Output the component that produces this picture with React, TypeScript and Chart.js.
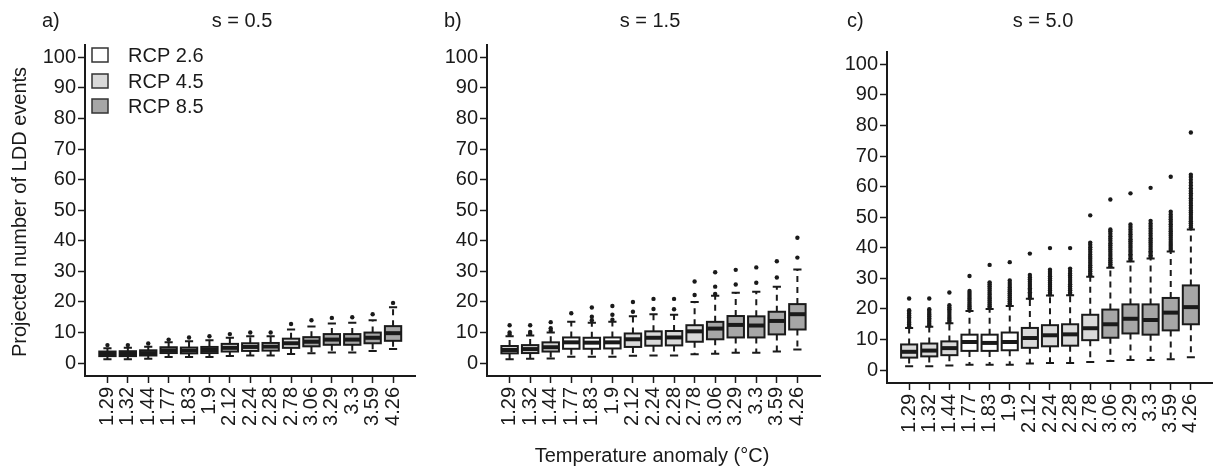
import React, { useEffect, useRef } from "react";
import { Chart, registerables } from "chart.js";
Chart.register(...registerables);

// ---------------- data ----------------
const categories = ["1.29", "1.32", "1.44", "1.77", "1.83", "1.9", "2.12", "2.24", "2.28", "2.78", "3.06", "3.29", "3.3", "3.59", "4.26"];
// 0 = RCP 2.6, 1 = RCP 4.5, 2 = RCP 8.5
const rcpGroup = [1, 1, 1, 0, 0, 0, 1, 1, 1, 1, 2, 2, 2, 2, 2];
const legendLabels = ["RCP 2.6", "RCP 4.5", "RCP 8.5"];
const yTickValues = [0, 10, 20, 30, 40, 50, 60, 70, 80, 90, 100];

// panel a) s = 0.5
const aLow = [1.3, 1.3, 1.4, 2.0, 2.0, 2.0, 2.3, 2.5, 2.5, 3.0, 3.2, 3.5, 3.5, 4.0, 4.6];
const aQ1 = [2.3, 2.3, 2.5, 3.3, 3.2, 3.3, 3.8, 4.0, 4.1, 5.0, 5.5, 6.0, 6.0, 6.5, 7.3];
const aMed = [3.0, 3.0, 3.3, 4.2, 4.1, 4.3, 5.0, 5.3, 5.4, 6.5, 7.0, 7.7, 7.7, 8.3, 9.8];
const aQ3 = [3.8, 3.9, 4.2, 5.2, 5.1, 5.3, 6.3, 6.5, 6.6, 8.0, 8.5, 9.5, 9.5, 10.0, 12.1];
const aHigh = [4.9, 5.0, 5.4, 6.8, 7.2, 7.5, 8.3, 8.8, 8.8, 11.0, 12.0, 13.0, 13.2, 14.0, 18.3];
const aOut = [[5.9], [5.9], [6.4], [7.7], [8.4], [8.8], [9.5], [10.0], [10.0], [12.8], [14.0], [14.8], [15.0], [16.0], [19.7]];

// panel b) s = 1.5
const bLow = [1.3, 1.4, 1.5, 2.1, 2.1, 2.1, 2.4, 2.5, 2.5, 2.9, 3.1, 3.4, 3.4, 3.8, 4.5];
const bQ1 = [3.2, 3.3, 3.8, 4.7, 4.7, 4.8, 5.3, 5.7, 5.8, 7.0, 7.8, 8.4, 8.4, 9.4, 11.0];
const bMed = [4.3, 4.6, 5.2, 6.8, 6.7, 6.8, 7.8, 8.3, 8.4, 10.4, 11.3, 12.5, 12.3, 13.8, 16.0];
const bQ3 = [5.6, 5.9, 6.8, 8.4, 8.3, 8.4, 9.7, 10.4, 10.5, 12.4, 13.5, 15.4, 15.3, 16.8, 19.3];
const bHigh = [8.8, 9.0, 10.0, 13.5, 13.2, 13.5, 15.3, 16.0, 15.8, 20.0, 22.0, 23.0, 23.3, 25.0, 30.6];
const bOut = [
  [9.4, 10.0, 12.4],
  [9.6, 10.2, 12.4],
  [10.6, 11.4, 13.4],
  [16.3],
  [14.0, 15.2, 18.2],
  [14.2, 15.8, 18.7],
  [16.8, 20.0],
  [17.7, 21.0],
  [17.6, 21.0],
  [22.3, 26.7],
  [22.6, 25.0, 29.7],
  [25.7, 30.5],
  [26.3, 31.3],
  [28.0, 33.3],
  [34.5, 41.0],
];

// panel c) s = 5.0
const cLow = [1.3, 1.3, 1.5, 1.8, 1.8, 1.8, 2.2, 2.3, 2.3, 2.7, 3.0, 3.3, 3.3, 3.6, 4.2];
const cQ1 = [4.1, 4.5, 4.9, 6.3, 6.3, 6.5, 7.3, 7.8, 8.0, 9.8, 10.6, 12.0, 11.6, 13.0, 15.0];
const cMed = [6.0, 6.4, 7.2, 9.2, 8.9, 9.2, 10.5, 11.4, 11.7, 13.7, 15.0, 16.8, 16.4, 18.8, 20.6];
const cQ3 = [8.4, 8.7, 9.4, 11.6, 11.6, 12.3, 13.8, 14.7, 15.0, 18.1, 19.8, 21.5, 21.5, 23.6, 27.7];
const cHigh = [13.8, 14.2, 15.3, 19.3, 20.0, 21.0, 23.3, 24.4, 24.5, 30.5, 33.5, 35.5, 36.5, 38.8, 46.0];
const cOut = [
  [14.3, 14.9, 15.5, 16.1, 16.7, 17.3, 17.9, 18.5, 19.1, 19.6, 23.4],
  [14.6, 15.2, 15.8, 16.4, 17.0, 17.6, 18.2, 18.8, 19.4, 19.9, 23.4],
  [15.6, 16.2, 16.8, 17.4, 18.0, 18.7, 19.3, 19.9, 20.5, 21.2, 25.4],
  [19.6, 20.2, 20.8, 21.4, 22.0, 22.7, 23.3, 23.9, 24.6, 25.2, 25.9, 30.8],
  [20.3, 20.9, 21.5, 22.1, 22.8, 23.4, 24.0, 24.7, 25.3, 26.0, 26.7, 27.4, 28.1, 28.7, 34.4],
  [21.3, 21.9, 22.5, 23.2, 23.8, 24.5, 25.1, 25.8, 26.4, 27.1, 27.8, 28.5, 29.3, 35.3],
  [23.6, 24.2, 24.9, 25.5, 26.2, 26.8, 27.5, 28.2, 28.9, 29.6, 30.3, 31.1, 38.1],
  [24.7, 25.3, 26.0, 26.6, 27.3, 27.9, 28.6, 29.3, 30.0, 30.7, 31.4, 32.1, 32.8, 39.9],
  [24.8, 25.4, 26.1, 26.7, 27.4, 28.1, 28.8, 29.5, 30.2, 30.9, 31.6, 32.4, 33.2, 39.9],
  [31.0, 31.6, 32.3, 32.9, 33.6, 34.3, 35.0, 35.7, 36.4, 37.1, 37.8, 38.6, 39.4, 40.2, 41.0, 41.7, 50.6],
  [34.0, 34.6, 35.3, 35.9, 36.6, 37.3, 38.0, 38.7, 39.4, 40.1, 40.8, 41.5, 42.3, 43.0, 43.8, 44.6, 45.4, 46.0, 55.8],
  [36.0, 36.6, 37.3, 37.9, 38.6, 39.3, 40.0, 40.7, 41.4, 42.1, 42.8, 43.6, 44.4, 45.2, 46.0, 46.8, 47.6, 57.8],
  [37.0, 37.6, 38.3, 38.9, 39.6, 40.3, 41.0, 41.7, 42.4, 43.1, 43.9, 44.7, 45.5, 46.3, 47.1, 47.9, 48.8, 59.6],
  [39.3, 39.9, 40.6, 41.2, 41.9, 42.6, 43.3, 44.0, 44.7, 45.4, 46.1, 46.9, 47.7, 48.5, 49.3, 50.1, 50.9, 51.8, 63.2],
  [46.6, 47.3, 48.0, 48.7, 49.4, 50.1, 50.8, 51.5, 52.2, 53.0, 53.8, 54.6, 55.4, 56.2, 57.0, 57.8, 58.6, 59.5, 60.4, 61.3, 62.2, 63.1, 63.9, 77.7],
];

// ---------------- styles / layout ----------------
const W = 1219;
const H = 472;
const FONT = '"Liberation Sans", Arial, Helvetica, sans-serif';
const INK = "#1a1a1a";
const groupFill = ["#ffffff", "#d9d9d9", "#a6a6a6"];

interface Panel {
  tag: string;
  title: string;
  titleX: number;
  tagX: number;
  left: number;
  right: number;
  top: number;
  bottom: number;
  yW: number;
  low: number[];
  q1: number[];
  med: number[];
  q3: number[];
  high: number[];
  out: number[][];
  legend?: boolean;
  yTitle?: boolean;
  xTitle?: boolean;
}

const panels: Panel[] = [
  { tag: "a)", title: "s = 0.5", titleX: 242, tagX: 42, left: 85, right: 415.5, top: 45, bottom: 376, yW: 60,
    low: aLow, q1: aQ1, med: aMed, q3: aQ3, high: aHigh, out: aOut, legend: true, yTitle: true },
  { tag: "b)", title: "s = 1.5", titleX: 650, tagX: 444, left: 487, right: 820, top: 45, bottom: 376, yW: 60,
    low: bLow, q1: bQ1, med: bMed, q3: bQ3, high: bHigh, out: bOut, xTitle: true },
  { tag: "c)", title: "s = 5.0", titleX: 1043, tagX: 847, left: 887, right: 1219, top: 52, bottom: 383, yW: 60,
    low: cLow, q1: cQ1, med: cMed, q3: cQ3, high: cHigh, out: cOut },
];

function makeBoxPlugin(p: Panel) {
  return {
    id: "boxes",
    beforeDatasetsDraw(chart: any) {
      const ctx: CanvasRenderingContext2D = chart.ctx;
      const xs = chart.scales.x;
      const ys = chart.scales.y;
      const unit = xs.getPixelForValue(1) - xs.getPixelForValue(0);
      const halfBox = unit * 0.4;
      const halfCap = unit * 0.2;
      ctx.save();
      categories.forEach((_, i) => {
        const cx = xs.getPixelForValue(i + 1);
        const yLow = ys.getPixelForValue(p.low[i]);
        const yQ1 = ys.getPixelForValue(p.q1[i]);
        const yMed = ys.getPixelForValue(p.med[i]);
        const yQ3 = ys.getPixelForValue(p.q3[i]);
        const yHigh = ys.getPixelForValue(p.high[i]);
        // whiskers (dashed)
        ctx.strokeStyle = INK;
        ctx.lineWidth = 2;
        ctx.setLineDash([6, 5]);
        ctx.beginPath();
        ctx.moveTo(cx, yQ1);
        ctx.lineTo(cx, yLow);
        ctx.moveTo(cx, yQ3);
        ctx.lineTo(cx, yHigh);
        ctx.stroke();
        ctx.setLineDash([]);
        // staples
        ctx.lineWidth = 2;
        ctx.beginPath();
        ctx.moveTo(cx - halfCap, yLow);
        ctx.lineTo(cx + halfCap, yLow);
        ctx.moveTo(cx - halfCap, yHigh);
        ctx.lineTo(cx + halfCap, yHigh);
        ctx.stroke();
        // box
        ctx.fillStyle = groupFill[rcpGroup[i]];
        ctx.fillRect(cx - halfBox, yQ3, halfBox * 2, yQ1 - yQ3);
        ctx.lineWidth = 2;
        ctx.strokeRect(cx - halfBox, yQ3, halfBox * 2, yQ1 - yQ3);
        // median
        ctx.lineWidth = 4;
        ctx.beginPath();
        ctx.moveTo(cx - halfBox, yMed);
        ctx.lineTo(cx + halfBox, yMed);
        ctx.stroke();
      });
      ctx.restore();
    },
    afterDraw(chart: any) {
      const ctx: CanvasRenderingContext2D = chart.ctx;
      ctx.save();
      ctx.fillStyle = INK;
      ctx.font = `20px ${FONT}`;
      ctx.textBaseline = "alphabetic";
      ctx.textAlign = "left";
      ctx.fillText(p.tag, p.tagX, 27);
      ctx.textAlign = "center";
      ctx.fillText(p.title, p.titleX, 27);
      if (p.yTitle) {
        ctx.save();
        ctx.translate(26, 212);
        ctx.rotate(-Math.PI / 2);
        ctx.textAlign = "center";
        ctx.textBaseline = "alphabetic";
        ctx.fillText("Projected number of LDD events", 0, 0);
        ctx.restore();
      }
      if (p.xTitle) {
        ctx.textAlign = "center";
        ctx.fillText("Temperature anomaly (°C)", 652, 462);
      }
      if (p.legend) {
        const rows = [55, 81, 106];
        legendLabels.forEach((lab, k) => {
          const cy = rows[k];
          ctx.fillStyle = groupFill[k];
          ctx.fillRect(92, cy - 7, 16, 14);
          ctx.strokeStyle = "#333";
          ctx.lineWidth = 1.5;
          ctx.strokeRect(92, cy - 7, 16, 14);
          ctx.fillStyle = INK;
          ctx.textAlign = "left";
          ctx.textBaseline = "middle";
          ctx.fillText(lab, 128, cy + 1);
        });
      }
      ctx.restore();
    },
  };
}

function PanelChart({ p }: { p: Panel }) {
  const ref = useRef<HTMLCanvasElement>(null);
  useEffect(() => {
    if (!ref.current) return;
    const points: { x: number; y: number }[] = [];
    p.out.forEach((vals, i) => vals.forEach((v) => points.push({ x: i + 1, y: v })));
    const chart = new Chart(ref.current, {
      type: "scatter",
      data: {
        datasets: [
          {
            data: points,
            pointRadius: 2.2,
            pointBackgroundColor: INK,
            pointBorderWidth: 0,
            pointHoverRadius: 2.2,
          },
        ],
      },
      options: {
        animation: false,
        responsive: false,
        events: [],
        layout: { padding: { left: p.left - p.yW, right: W - p.right, top: p.top, bottom: 0 } },
        plugins: { legend: { display: false }, tooltip: { enabled: false }, title: { display: false } },
        scales: {
          x: {
            type: "linear",
            min: -0.1,
            max: 16.1,
            afterBuildTicks: (s: any) => {
              s.ticks = categories.map((_, i) => ({ value: i + 1 }));
            },
            afterFit: (s: any) => {
              s.height = H - p.bottom;
            },
            ticks: {
              autoSkip: false,
              minRotation: 90,
              maxRotation: 90,
              padding: 4,
              color: INK,
              font: { family: FONT, size: 20 },
              callback: (v: any) => categories[Math.round(Number(v)) - 1] ?? "",
            },
            grid: { drawOnChartArea: false, drawTicks: true, tickLength: 7, tickWidth: 1.5, tickColor: INK },
            border: { display: true, width: 2, color: INK },
          },
          y: {
            type: "linear",
            min: -4.2,
            max: 104,
            afterBuildTicks: (s: any) => {
              s.ticks = yTickValues.map((v) => ({ value: v }));
            },
            afterFit: (s: any) => {
              s.width = p.yW;
            },
            ticks: {
              padding: 2,
              color: INK,
              font: { family: FONT, size: 20 },
              callback: (v: any) => String(v),
            },
            grid: { drawOnChartArea: false, drawTicks: true, tickLength: 7, tickWidth: 1.5, tickColor: INK },
            border: { display: true, width: 2, color: INK },
          },
        },
      } as any,
      plugins: [makeBoxPlugin(p)],
    });
    return () => chart.destroy();
  }, [p]);
  return (
    <canvas
      ref={ref}
      width={W}
      height={H}
      style={{ position: "absolute", left: 0, top: 0, width: W, height: H }}
    />
  );
}

export default function App() {
  return (
    <div style={{ position: "fixed", left: 0, top: 0, width: W, height: H, background: "#fff" }}>
      {panels.map((p) => (
        <PanelChart key={p.tag} p={p} />
      ))}
    </div>
  );
}
